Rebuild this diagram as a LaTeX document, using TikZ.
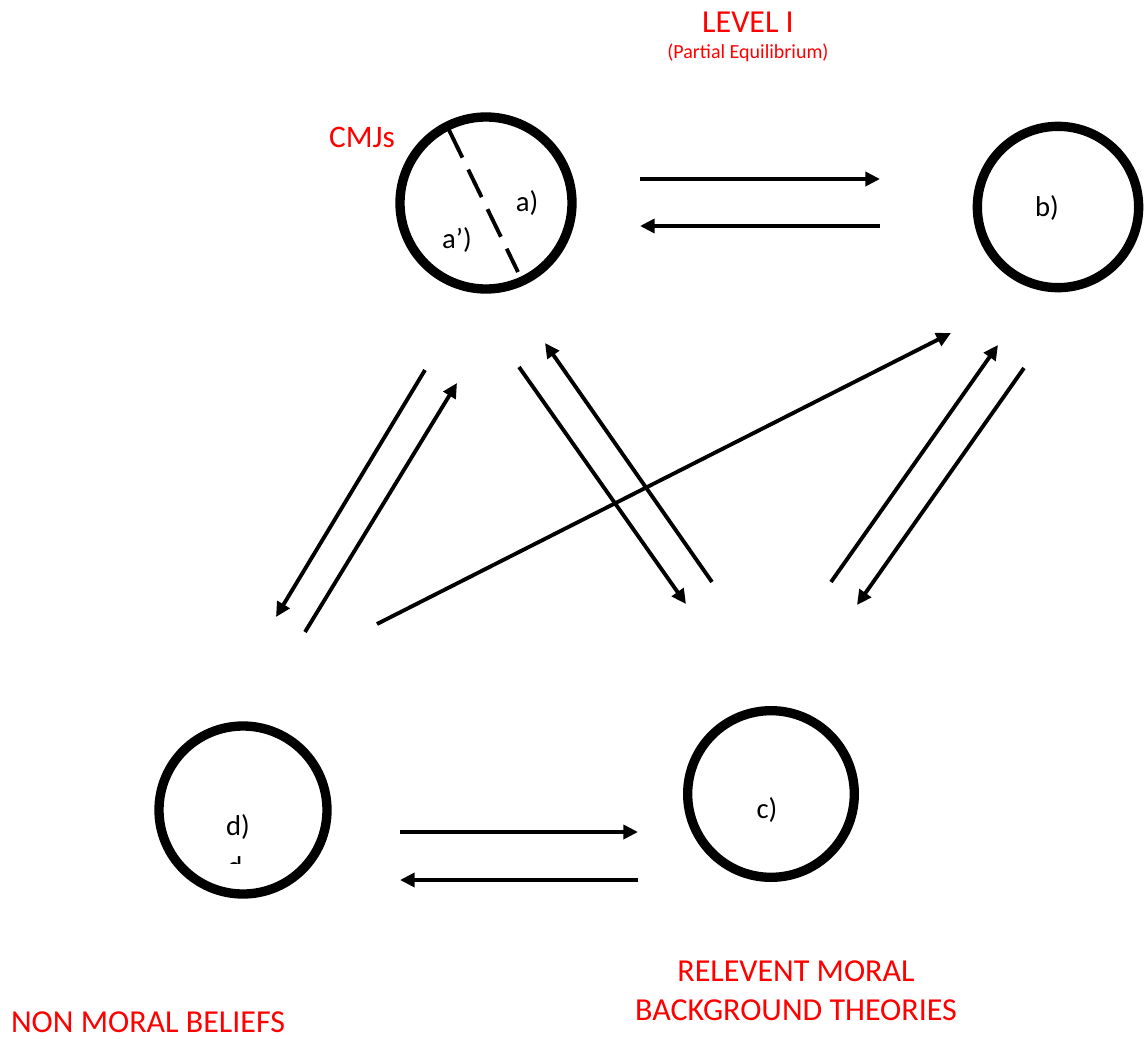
\documentclass[tikz,border=0pt]{standalone}
\usepackage{fontspec}
\setmainfont{Carlito}
\usetikzlibrary{arrows.meta}
\tikzset{
  ring/.style={circle, draw, line width=7pt, inner sep=0pt},
  conn/.style={line width=2.9pt, -{Triangle[length=11pt,width=10.5pt]}},
  redlbl/.style={text=red, font=\fontsize{24}{29}\selectfont, align=center},
  inlbl/.style={font=\fontsize{21.5}{25}\selectfont},
}
\begin{document}
\begin{tikzpicture}[x=0.75pt,y=-0.75pt]
\useasboundingbox (0,0) rectangle (1147,1039);
% circles
\node[ring, minimum size=129pt] (A) at (486,203) {};
\node[ring, minimum size=121pt] (B) at (1058,207) {};
\node[ring, minimum size=125pt] (C) at (771,794) {};
\node[ring, minimum size=126pt] (D) at (243,810) {};
% dashed divider in a
\coordinate (dv1) at (449,130);
\coordinate (dv2) at (518,272);
\draw[line width=2.9pt, dash pattern=on 23pt off 10pt] (dv1) -- (dv2);
% inner labels
\node[inlbl] (la) at (527,203) {a)};
\node[inlbl] (lap) at (457,240) {a’)};
\node[inlbl] (lb) at (1047,208) {b)};
\node[inlbl] (lc) at (767,810) {c)};
\node[inlbl] (ld) at (238,827) {d)};
\begin{scope}
\clip (200,845) rectangle (280,863);
\node[inlbl, anchor=base, inner sep=0pt] (ld2) at (235,876) {d};
\end{scope}
% red labels
\node[redlbl, font=\fontsize{23.5}{28}\selectfont] (cmj) at (362,137) {CMJs};
\node[redlbl] (lev) at (748,22) {LEVEL I};
\node[redlbl, font=\fontsize{15}{18}\selectfont] (peq) at (748,53) {(Partial Equilibrium)};
\node[redlbl] (rmb) at (796,991) {RELEVENT MORAL\\BACKGROUND THEORIES};
\node[redlbl] (nmb) at (148,1022) {NON MORAL BELIEFS};
% arrow endpoints
\coordinate (p1s) at (640,179); \coordinate (p1e) at (880,179);
\coordinate (p2s) at (880,226); \coordinate (p2e) at (640,226);
\coordinate (p3s) at (425,370); \coordinate (p3e) at (276,617);
\coordinate (p4s) at (305,632); \coordinate (p4e) at (457,383);
\coordinate (p5s) at (519,367); \coordinate (p5e) at (686,604);
\coordinate (p6s) at (712,582); \coordinate (p6e) at (545,343);
\coordinate (p7s) at (377,624); \coordinate (p7e) at (951,333);
\coordinate (p8s) at (831,582); \coordinate (p8e) at (998,345);
\coordinate (p9s) at (1024,368); \coordinate (p9e) at (857,605);
\coordinate (p10s) at (400,832); \coordinate (p10e) at (638,832);
\coordinate (p11s) at (638,880); \coordinate (p11e) at (400,880);
\foreach \i in {1,...,11} {\draw[conn] (p\i s) -- (p\i e);}
\end{tikzpicture}
\end{document}
